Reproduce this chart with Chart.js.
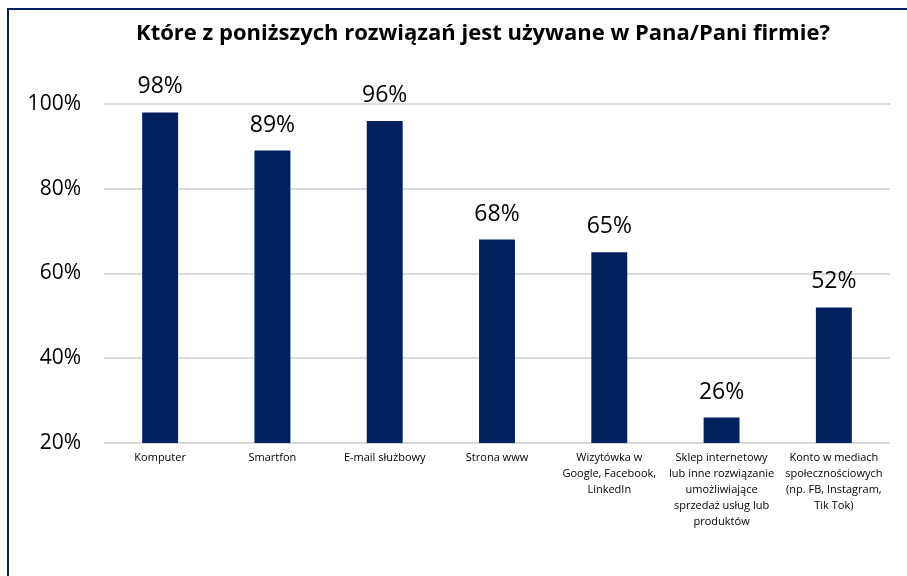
<!DOCTYPE html>
<html>
<head>
<meta charset="utf-8">
<script src="https://cdn.jsdelivr.net/npm/chart.js@4"></script>
<style>
	html, body { margin: 0; padding: 0; background: #fff; }
	#wrap { position: relative; width: 907px; height: 576px; }
	#frame {
		position: absolute; left: 7px; top: 8px; right: 0; bottom: 0;
		border-top: 2px solid #002060; border-left: 2px solid #002060;
	}
	#usage-canvas { position: absolute; left: 0; top: 0; }
</style>
</head>
<body>
<div id="wrap">
	<div id="frame"></div>
	<canvas id="usage-canvas" width="907" height="576"></canvas>
</div>
<script>
const chartTitle = "Które z poniższych rozwiązań jest używane w Pana/Pani firmie?";
const categories = [
	"Komputer",
	"Smartfon",
	"E-mail służbowy",
	"Strona www",
	["Wizytówka w", "Google, Facebook,", "LinkedIn"],
	["Sklep internetowy", "lub inne rozwiązanie", "umożliwiające", "sprzedaż usług lub", "produktów"],
	["Konto w mediach", "społecznościowych", "(np. FB, Instagram,", "Tik Tok)"],
];
const shares = [98, 89, 96, 68, 65, 26, 52];
const yTicks = [20, 40, 60, 80, 100];

const usageCanvas = document.getElementById("usage-canvas").getContext("2d");

Chart.defaults.font.family = "Open Sans";
Chart.defaults.color = "#000";

// heading is centred on the whole frame, not on the plot
const heading = {
	id: "heading",
	afterDraw(chart) {
		const ctx = chart.ctx;
		ctx.save();
		ctx.font = "bold 22px 'Open Sans'";
		ctx.fillStyle = "#000";
		ctx.textAlign = "center";
		ctx.textBaseline = "middle";
		ctx.fillText(chartTitle, 483, 34);
		ctx.restore();
	},
};

// percent labels above each bar
const barValues = {
	id: "barValues",
	afterDatasetsDraw(chart) {
		const ctx = chart.ctx;
		const meta = chart.getDatasetMeta(0);
		ctx.save();
		ctx.font = "23px 'Open Sans'";
		ctx.fillStyle = "#000";
		ctx.textAlign = "center";
		ctx.textBaseline = "alphabetic";
		meta.data.forEach((bar, i) => {
			ctx.fillText(shares[i] + "%", bar.x, bar.y - 19);
		});
		ctx.restore();
	},
};

const usageChart = new Chart(usageCanvas, {
	type: "bar",

	data: {
		labels: categories,
		datasets: [
			{
				data: shares,
				backgroundColor: "#002060",
				barPercentage: 0.32,
				categoryPercentage: 1,
			},
		],
	},

	options: {
		responsive: false,
		animation: false,
		layout: {
			padding: { left: 10, right: 17, top: 104, bottom: 0 },
		},
		plugins: {
			legend: { display: false },
			tooltip: { enabled: false },
			title: { display: false },
		},
		scales: {
			x: {
				grid: { display: false, drawTicks: false },
				border: { display: false },
				ticks: {
					font: { size: 11, lineHeight: 1.45 },
					padding: 7,
					maxRotation: 0,
					minRotation: 0,
					autoSkip: false,
				},
				afterFit(scale) {
					scale.height = 133;
				},
			},
			y: {
				min: 20,
				max: 100,
				grid: { color: "#d9d9d9", lineWidth: 2, drawTicks: false },
				border: { display: false },
				afterBuildTicks(scale) {
					scale.ticks = yTicks.map((v) => ({ value: v }));
				},
				ticks: {
					font: { size: 21 },
					padding: 23,
					callback: (v) => v + "%",
				},
				afterFit(scale) {
					scale.width = 94;
				},
			},
		},
	},

	plugins: [barValues, heading],
});
</script>
</body>
</html>
